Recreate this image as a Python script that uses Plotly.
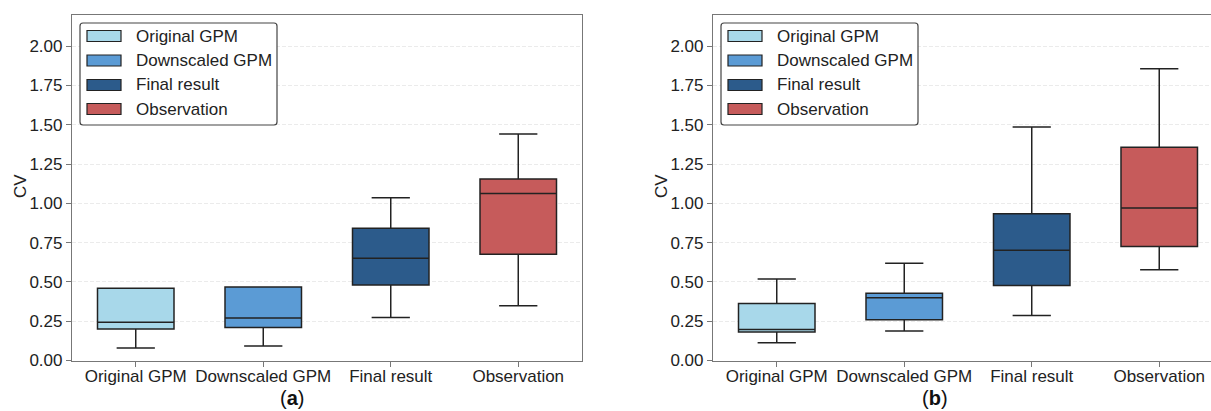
import plotly.graph_objects as go

# ---- data -------------------------------------------------------------
categories = ["Original GPM", "Downscaled GPM", "Final result", "Observation"]
colors = ["#A8D8EA", "#5B9BD5", "#2C5B8B", "#C65B5B"]

# panel (a): box statistics per category
a_lower = [0.079, 0.093, 0.273, 0.348]
a_q1 = [0.201, 0.210, 0.481, 0.676]
a_median = [0.244, 0.270, 0.651, 1.062]
a_q3 = [0.460, 0.467, 0.842, 1.155]
a_upper = [0.460, 0.467, 1.036, 1.441]

# panel (b): box statistics per category
b_lower = [0.113, 0.187, 0.286, 0.577]
b_q1 = [0.181, 0.259, 0.477, 0.725]
b_median = [0.197, 0.400, 0.702, 0.971]
b_q3 = [0.362, 0.428, 0.933, 1.357]
b_upper = [0.519, 0.619, 1.486, 1.856]

y_ticks = [0.0, 0.25, 0.5, 0.75, 1.0, 1.25, 1.5, 1.75, 2.0]
y_ticklabels = ["0.00", "0.25", "0.50", "0.75", "1.00", "1.25", "1.50", "1.75", "2.00"]
y_title = "CV"
panel_labels = ["(<b>a</b>)", "(<b>b</b>)"]

# ---- figure geometry --------------------------------------------------
W, H = 1211, 411
FONT = "Liberation Sans, Arial, sans-serif"
EDGE = "#222222"
TEXT = "#222222"


def px(x):
    return x / W


def py(y):
    return 1 - y / H


fig = go.Figure()

panels = [
    dict(xa="x", ya="y", stats=(a_lower, a_q1, a_median, a_q3, a_upper)),
    dict(xa="x2", ya="y2", stats=(b_lower, b_q1, b_median, b_q3, b_upper)),
]

for p in panels:
    lo, q1, med, q3, up = p["stats"]
    for i, cat in enumerate(categories):
        fig.add_trace(go.Box(
            x=[cat], q1=[q1[i]], median=[med[i]], q3=[q3[i]],
            lowerfence=[lo[i]], upperfence=[up[i]],
            width=0.6, whiskerwidth=0.5,
            fillcolor=colors[i],
            line=dict(color=EDGE, width=1.5),
            boxpoints=False, showlegend=False, hoverinfo="skip",
            xaxis=p["xa"], yaxis=p["ya"],
        ))

common_y = dict(
    range=[0, 2.2], tickvals=y_ticks, ticktext=y_ticklabels,
    showgrid=True, gridcolor="#ebebeb", griddash="4px,2px", gridwidth=1,
    zeroline=False, showline=True, linecolor="#777777", linewidth=1.2,
    ticks="outside", ticklen=5, tickcolor="#777777",
    tickfont=dict(family=FONT, size=17, color=TEXT),
    automargin=False,
)
common_x = dict(
    type="category", categoryorder="array", categoryarray=categories,
    showgrid=False, zeroline=False, showline=True, linecolor="#777777", linewidth=1.2,
    ticks="outside", ticklen=5, tickcolor="#777777", ticklabelstandoff=-5,
    tickfont=dict(family=FONT, size=17, color=TEXT),
    automargin=False,
)

y_dom = [py(360.5), py(14.7)]
fig.update_layout(
    width=W, height=H,
    margin=dict(l=0, r=0, t=0, b=0, autoexpand=False),
    paper_bgcolor="white", plot_bgcolor="white",
    xaxis=dict(common_x, domain=[px(72), px(582)], range=[-0.5, 3.5], mirror=True, anchor="y"),
    yaxis=dict(common_y, domain=y_dom, mirror=True, anchor="x"),
    xaxis2=dict(common_x, domain=[px(713), 1.0], range=[-0.5, 3.406], mirror=True, anchor="y2"),
    yaxis2=dict(common_y, domain=y_dom, anchor="x2"),
    showlegend=False,
)


# ---- legends (one per panel) -----------------------------------------
def rounded_rect(x0, y0, x1, y1, r=3):
    # path in paper coords built from pixel corners
    def P(x, y):
        return f"{px(x):.5f},{py(y):.5f}"
    return (f"M{P(x0 + r, y0)} L{P(x1 - r, y0)} Q{P(x1, y0)} {P(x1, y0 + r)} "
            f"L{P(x1, y1 - r)} Q{P(x1, y1)} {P(x1 - r, y1)} L{P(x0 + r, y1)} "
            f"Q{P(x0, y1)} {P(x0, y1 - r)} L{P(x0, y0 + r)} Q{P(x0, y0)} {P(x0 + r, y0)} Z")


row_y = [36, 60.5, 85, 109]
for off in (0, 641):
    fig.add_shape(type="path", xref="paper", yref="paper",
                  path=rounded_rect(80 + off, 23, 277 + off, 125),
                  line=dict(color="#444444", width=1.2), fillcolor="white")
    for i, cat in enumerate(categories):
        fig.add_shape(type="rect", xref="paper", yref="paper",
                      x0=px(87 + off), x1=px(121 + off),
                      y0=py(row_y[i] + 5.5), y1=py(row_y[i] - 5.5),
                      fillcolor=colors[i], line=dict(color=EDGE, width=1.2))
        fig.add_annotation(x=px(134 + off), y=py(row_y[i]), xref="paper", yref="paper",
                           text=cat, showarrow=False, xanchor="left", yanchor="middle",
                           font=dict(family=FONT, size=17, color=TEXT))

# ---- axis titles and panel labels ------------------------------------
for cx in (20, 661):
    fig.add_annotation(x=px(cx), y=py(186), xref="paper", yref="paper",
                       text=y_title, textangle=-90, showarrow=False,
                       xanchor="center", yanchor="middle",
                       font=dict(family=FONT, size=17, color=TEXT))

for cx, lab in zip((292, 935), panel_labels):
    fig.add_annotation(x=px(cx), y=py(398), xref="paper", yref="paper",
                       text=lab, showarrow=False, xanchor="center", yanchor="middle",
                       font=dict(family=FONT, size=20, color="#111111"))

fig.write_html("out.html")
